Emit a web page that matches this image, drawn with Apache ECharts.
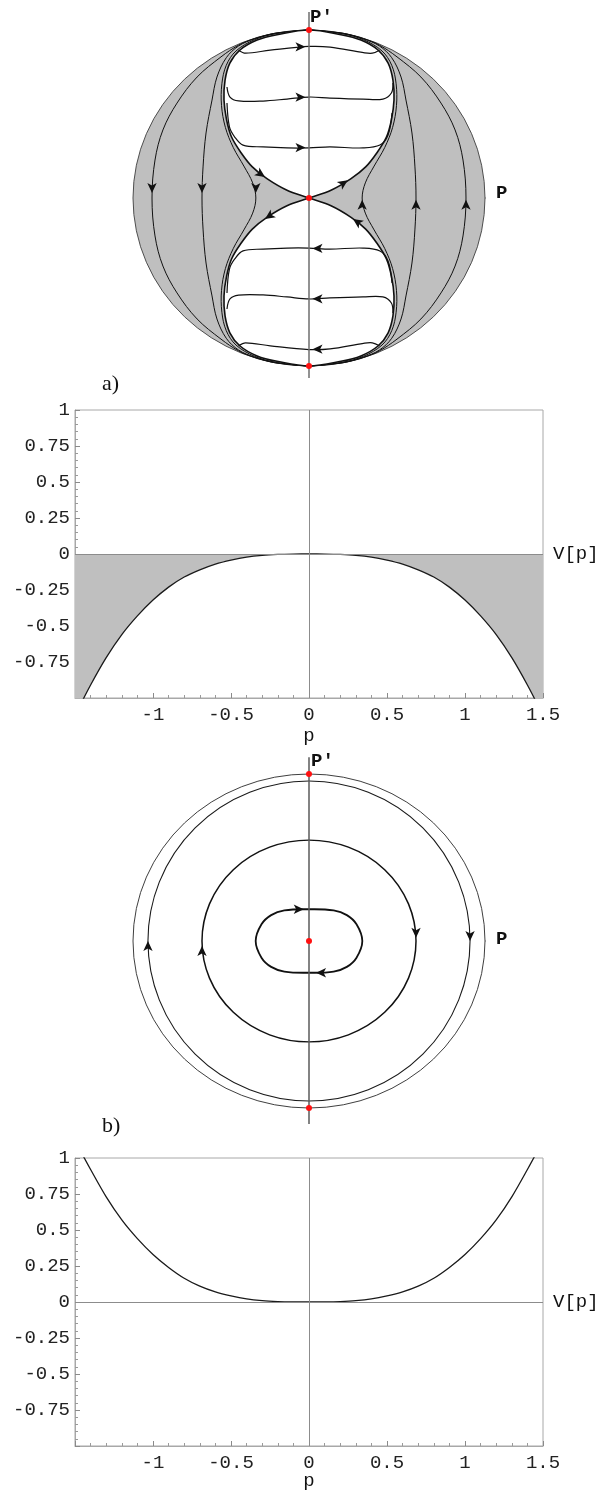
<!DOCTYPE html>
<html>
<head>
<meta charset="utf-8">
<script src="https://cdn.jsdelivr.net/npm/echarts@6/dist/echarts.min.js"></script>
<style>
html, body { margin: 0; padding: 0; background: #ffffff; }
#chart { width: 600px; height: 1493px; }
</style>
</head>
<body>
<div id="chart"></div>
<script>
// ---------------- V[p] plots ----------------
const pValues = [-1.5,-1.4,-1.3,-1.2,-1.1,-1.0,-0.9,-0.8,-0.7,-0.6,-0.5,-0.4,-0.3,-0.2,-0.1,0,0.1,0.2,0.3,0.4,0.5,0.6,0.7,0.8,0.9,1.0,1.1,1.2,1.3,1.4,1.5];
const potentialA = [-1.12,-0.91,-0.72,-0.56,-0.43,-0.32,-0.23,-0.16,-0.11,-0.07,-0.042,-0.021,-0.009,-0.003,-0.0005,0,-0.0005,-0.003,-0.009,-0.021,-0.042,-0.07,-0.11,-0.16,-0.23,-0.32,-0.43,-0.56,-0.72,-0.91,-1.12];
const potentialB = [1.12,0.92,0.73,0.57,0.44,0.33,0.24,0.165,0.11,0.07,0.042,0.021,0.009,0.003,0.0005,0,0.0005,0.003,0.009,0.021,0.042,0.07,0.11,0.165,0.24,0.33,0.44,0.57,0.73,0.92,1.12];
const xTickValues = [-1, -0.5, 0, 0.5, 1, 1.5];
const xTickLabels = ['-1', '-0.5', '0', '0.5', '1', '1.5'];
const yTickValues = [1, 0.75, 0.5, 0.25, 0, -0.25, -0.5, -0.75];
const yTickLabels = ['1', '0.75', '0.5', '0.25', '0', '-0.25', '-0.5', '-0.75'];

// ---------------- Phase portrait a) (P, P' normalised to boundary circle) ----------------
const boundaryA = [1, 1];
const separatrixUL = [[0,1],[-0.182,0.972],[-0.295,0.940],[-0.392,0.881],[-0.449,0.804],[-0.477,0.702],[-0.483,0.583],[-0.468,0.464],[-0.440,0.363],[-0.385,0.268],[-0.322,0.185],[-0.239,0.115],[-0.125,0.046],[0,0]];
const flowOuterUL = [[0,1],[-0.19,0.981],[-0.31,0.949],[-0.40,0.910],[-0.50,0.840],[-0.636,0.720],[-0.750,0.565],[-0.830,0.405],[-0.875,0.226],[-0.892,0]];
const flowMiddleUL = [[0,1],[-0.19,0.980],[-0.31,0.947],[-0.40,0.905],[-0.47,0.835],[-0.523,0.720],[-0.551,0.583],[-0.585,0.387],[-0.602,0.185],[-0.608,0]];
const flowInnerUL = [[0,1],[-0.19,0.978],[-0.31,0.942],[-0.415,0.875],[-0.47,0.79],[-0.495,0.68],[-0.497,0.55],[-0.475,0.42],[-0.43,0.30],[-0.37,0.19],[-0.32,0.09],[-0.302,0]];
const lobeFlowTop = [[-0.40,0.88],[-0.36,0.862],[-0.22,0.88],[0,0.902],[0.12,0.898],[0.31,0.865],[0.36,0.862],[0.40,0.88]];
const lobeFlowMid = [[-0.466,0.661],[-0.449,0.601],[-0.40,0.578],[-0.261,0.577],[-0.125,0.589],[0,0.601],[0.119,0.595],[0.307,0.589],[0.42,0.589],[0.468,0.625],[0.477,0.685]];
const lobeFlowLow = [[-0.466,0.565],[-0.452,0.423],[-0.422,0.363],[-0.375,0.315],[-0.261,0.304],[-0.125,0.298],[0,0.298],[0.119,0.304],[0.307,0.298],[0.403,0.315],[0.449,0.375],[0.472,0.506]];
// arrows: [P, P', direction in degrees (0 = right, 90 = up)]
const arrowsA = [[-0.02,0.90,0],[-0.02,0.60,0],[-0.02,0.30,0],[0.02,-0.90,180],[0.02,-0.60,180],[0.02,-0.30,180],
  [-0.892,0.03,270],[-0.608,0.03,270],[-0.302,0.03,270],[0.892,-0.01,90],[0.608,-0.01,90],[0.302,-0.01,90],
  [-0.25,0.125,-34],[-0.25,-0.125,214],[0.22,0.105,34],[0.25,-0.125,146]];
const fixedPointsA = [[0,1],[0,0],[0,-1]];
const axisLineA = [[0,-1.071],[0,1.107]];
const axisTickA = [[1,0],[1.06,0]];

// ---------------- Phase portrait b) ----------------
const boundaryB = [1, 1];
const orbitEllipsesB = [[0.915,0.958],[0.608,0.604]];
const orbitInnerB = [[0,0.19],[0.14,0.183],[0.215,0.155],[0.27,0.1],[0.303,0],[0.27,-0.1],[0.215,-0.155],[0.14,-0.183],[0,-0.19],[-0.14,-0.183],[-0.215,-0.155],[-0.27,-0.1],[-0.303,0],[-0.27,0.1],[-0.215,0.155],[-0.14,0.183]];
const arrowsB = [[-0.03,0.19,0],[0.04,-0.19,180],[0.608,0.02,270],[-0.608,-0.03,90],[0.915,0,270],[-0.915,0,90]];
const fixedPointsB = [[0,1],[0,0],[0,-1]];
const axisLineB = [[0,-1.096],[0,1.10]];
const axisTickB = [[1,0],[1.06,0]];

// ---------------- helpers (build tables from the arrays) ----------------
function reflectY(pts) { return pts.map(function (p) { return [p[0], -p[1]]; }); }
function reflectX(pts) { return pts.map(function (p) { return [-p[0], p[1]]; }); }
function meridian(q) { // q runs from top point down to P'=0
  return q.concat(reflectY(q.slice(0, -1).reverse()));
}
function lobe(sep) { // sep runs from (0,1) to (0,0); saddle vertex doubled to keep its corner
  const left = sep.slice();
  const right = reflectX(sep.slice(0, -1).reverse());
  return left.concat([sep[sep.length - 1]]).concat(right.slice(0, -1));
}

const INK = '#111111';
function shapeSeries(axisIdx, shapes, z) {
  return {
    type: 'custom', xAxisIndex: axisIdx, yAxisIndex: axisIdx, z: z, clip: false, silent: true,
    data: shapes.map(function () { return [0, 0]; }),
    renderItem: function (params, api) {
      const s = shapes[params.dataIndex];
      const style = { fill: s.fill || 'none', stroke: s.stroke || 'none', lineWidth: s.width || 1 };
      if (s.ellipse) {
        const c = api.coord([0, 0]);
        const r = api.size([s.ellipse[0], s.ellipse[1]]);
        style.strokeNoScale = true;
        return { type: 'circle', x: c[0], y: c[1], scaleX: 1, scaleY: r[1] / r[0], shape: { cx: 0, cy: 0, r: r[0] }, style: style };
      }
      const pts = s.points.map(function (p) { return api.coord(p); });
      return { type: s.closed ? 'polygon' : 'polyline', shape: { points: pts, smooth: s.smooth || 0 }, style: style };
    }
  };
}
function arrowSeries(axisIdx, arrows) {
  return {
    type: 'scatter', xAxisIndex: axisIdx, yAxisIndex: axisIdx, z: 7, silent: true, clip: false,
    symbol: 'arrow', symbolSize: [7, 10], itemStyle: { color: INK, opacity: 1 },
    data: arrows.map(function (a) { return { value: [a[0], a[1]], symbolRotate: a[2] - 90 }; })
  };
}
function dotSeries(axisIdx, pts) {
  return {
    type: 'scatter', xAxisIndex: axisIdx, yAxisIndex: axisIdx, z: 8, silent: true, clip: false,
    symbol: 'circle', symbolSize: 6, itemStyle: { color: '#ff1010', opacity: 1 }, data: pts
  };
}
function segSeries(axisIdx, pts, color, width, z) {
  return {
    type: 'line', xAxisIndex: axisIdx, yAxisIndex: axisIdx, z: z, silent: true, clip: false,
    showSymbol: false, symbol: 'none', data: pts, lineStyle: { color: color, width: width }
  };
}

// ---------- panel a shapes ----------
const upperLobe = lobe(separatrixUL);
const lowerLobe = reflectY(upperLobe);
const meridiansLeft = [flowOuterUL, flowMiddleUL, flowInnerUL].map(meridian);
const meridiansA = meridiansLeft.concat(meridiansLeft.map(reflectX));
const lobeFlowsUpper = [lobeFlowTop, lobeFlowMid, lobeFlowLow];
const lobeFlowsA = lobeFlowsUpper.concat(lobeFlowsUpper.map(reflectY));

const diskShapesA = [{ ellipse: boundaryA, fill: '#bfbfbf', stroke: '#4a4a4a', width: 1 }];
const meridianShapesA = meridiansA.map(function (m) { return { points: m, stroke: INK, width: 1, smooth: 0.35 }; });
const lobeShapesA = [upperLobe, lowerLobe].map(function (l) { return { points: l, closed: true, fill: '#ffffff', stroke: INK, width: 1.6, smooth: 0.35 }; });
const lobeFlowShapesA = lobeFlowsA.map(function (m) { return { points: m, stroke: INK, width: 1.2, smooth: 0.35 }; });

// ---------- panel b shapes ----------
const orbitShapesB = [
  { ellipse: boundaryB, stroke: '#3a3a3a', width: 1 },
  { ellipse: orbitEllipsesB[0], stroke: '#1a1a1a', width: 1.1 },
  { ellipse: orbitEllipsesB[1], stroke: INK, width: 1.5 },
  { points: orbitInnerB, closed: true, stroke: INK, width: 1.8, smooth: 0.4 }
];

// ---------- V[p] series ----------
function fmtX(v) { for (let i = 0; i < xTickValues.length; i++) { if (Math.abs(v - xTickValues[i]) < 1e-6) return xTickLabels[i]; } return ''; }
function fmtY(v) { for (let i = 0; i < yTickValues.length; i++) { if (Math.abs(v - yTickValues[i]) < 1e-6) return yTickLabels[i]; } return ''; }
const labelFont = { fontFamily: 'Liberation Mono', fontSize: 19, color: '#222222' };
function plotXAxis(gi) {
  return {
    gridIndex: gi, type: 'value', min: -1.5, max: 1.5, interval: 0.5, position: 'bottom',
    axisLine: { show: true, onZero: false, lineStyle: { color: '#a8a8a8', width: 1 } },
    axisTick: { show: true, inside: true, length: 5, lineStyle: { color: '#8a8a8a' } },
    minorTick: { show: true, splitNumber: 5, length: 3, lineStyle: { color: '#9a9a9a' } },
    splitLine: { show: false }, minorSplitLine: { show: false },
    axisLabel: Object.assign({ formatter: fmtX, margin: 7 }, labelFont)
  };
}
function plotYAxis(gi) {
  return {
    gridIndex: gi, type: 'value', min: -1, max: 1, interval: 0.25, position: 'left',
    axisLine: { show: true, onZero: false, lineStyle: { color: '#a8a8a8', width: 1 } },
    axisTick: { show: true, inside: true, length: 5, lineStyle: { color: '#8a8a8a' } },
    minorTick: { show: true, splitNumber: 5, length: 3, lineStyle: { color: '#9a9a9a' } },
    splitLine: { show: false }, minorSplitLine: { show: false },
    axisLabel: Object.assign({ formatter: fmtY, margin: 5 }, labelFont)
  };
}
function hiddenAxis(gi) { return { gridIndex: gi, type: 'value', min: -1, max: 1, show: false }; }
const zeroLines = {
  silent: true, symbol: 'none', animation: false, label: { show: false },
  lineStyle: { color: '#8c8c8c', width: 1, type: 'solid' },
  data: [{ xAxis: 0 }, { yAxis: 0 }]
};

const textFont = function (size, weight, family) { return { fontSize: size, fontWeight: weight, fontFamily: family, fill: '#111111' }; };
function label(text, x, y, align, style) {
  return { type: 'text', x: x, y: y, silent: true, style: Object.assign({ text: text, align: align, verticalAlign: 'middle', textAlign: align, textVerticalAlign: 'middle' }, style) };
}

const chart = echarts.init(document.getElementById('chart'), null, { renderer: 'canvas' });
chart.setOption({
  animation: false,
  backgroundColor: '#ffffff',
  grid: [
    { left: 133, top: 30, width: 352, height: 336, show: false, containLabel: false, outerBoundsMode: 'none' },
    { left: 133, top: 774, width: 352, height: 334, show: false, containLabel: false, outerBoundsMode: 'none' },
    { left: 75, top: 410, width: 468, height: 288, show: true, borderColor: '#a8a8a8', borderWidth: 1, backgroundColor: 'transparent', containLabel: false, outerBoundsMode: 'none' },
    { left: 75, top: 1158, width: 468, height: 288, show: true, borderColor: '#a8a8a8', borderWidth: 1, backgroundColor: 'transparent', containLabel: false, outerBoundsMode: 'none' }
  ],
  xAxis: [hiddenAxis(0), hiddenAxis(1), plotXAxis(2), plotXAxis(3)],
  yAxis: [hiddenAxis(0), hiddenAxis(1), plotYAxis(2), plotYAxis(3)],
  graphic: [
    label('P\u2032', 310, 17, 'left', textFont(19, 'bold', 'Liberation Mono')),
    label('P', 496, 193, 'left', textFont(19, 'bold', 'Liberation Mono')),
    label('a)', 102, 384, 'left', textFont(22, 'normal', 'Liberation Serif')),
    label('V[p]', 553, 554, 'left', textFont(19, 'normal', 'Liberation Mono')),
    label('p', 309, 736, 'center', textFont(19, 'normal', 'Liberation Mono')),
    label('P\u2032', 311, 761, 'left', textFont(19, 'bold', 'Liberation Mono')),
    label('P', 496, 939, 'left', textFont(19, 'bold', 'Liberation Mono')),
    label('b)', 102, 1126, 'left', textFont(22, 'normal', 'Liberation Serif')),
    label('V[p]', 553, 1302, 'left', textFont(19, 'normal', 'Liberation Mono')),
    label('p', 309, 1481, 'center', textFont(19, 'normal', 'Liberation Mono'))
  ],
  series: [
    // panel a
    shapeSeries(0, diskShapesA, 1),
    shapeSeries(0, meridianShapesA, 2),
    shapeSeries(0, lobeShapesA, 3),
    shapeSeries(0, lobeFlowShapesA, 4),
    segSeries(0, axisLineA, '#6e6e6e', 1.5, 5),
    segSeries(0, axisTickA, '#6e6e6e', 1, 5),
    arrowSeries(0, arrowsA),
    dotSeries(0, fixedPointsA),
    // panel b
    shapeSeries(1, orbitShapesB, 2),
    segSeries(1, axisLineB, '#5a5a5a', 1.5, 5),
    segSeries(1, axisTickB, '#6e6e6e', 1, 5),
    arrowSeries(1, arrowsB),
    dotSeries(1, fixedPointsB),
    // V[p] plot a
    {
      type: 'line', xAxisIndex: 2, yAxisIndex: 2, z: 3, clip: true, silent: true,
      showSymbol: false, symbol: 'none', smooth: 0.3,
      data: pValues.map(function (p, i) { return [p, potentialA[i]]; }),
      lineStyle: { color: '#1a1a1a', width: 1.3 },
      areaStyle: { color: '#bfbfbf', opacity: 1 },
      markLine: zeroLines
    },
    // V[p] plot b
    {
      type: 'line', xAxisIndex: 3, yAxisIndex: 3, z: 3, clip: true, silent: true,
      showSymbol: false, symbol: 'none', smooth: 0.3,
      data: pValues.map(function (p, i) { return [p, potentialB[i]]; }),
      lineStyle: { color: '#1a1a1a', width: 1.3 },
      markLine: zeroLines
    }
  ]
});
</script>
</body>
</html>
